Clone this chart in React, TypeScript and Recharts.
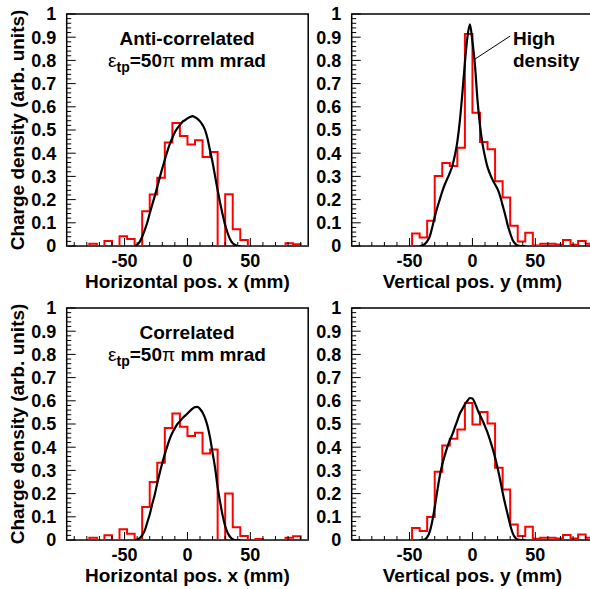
import { LineChart, Line, XAxis, YAxis, ReferenceArea, ReferenceLine } from "recharts";

// histogram bin edges (mm), 6 mm bins from -96 to 96
const binEdges = [
  -96, -90, -84, -78, -72, -66, -60, -54, -48, -42, -36, -30, -24, -18, -12, -6,
  0, 6, 12, 18, 24, 30, 36, 42, 48, 54, 60, 66, 72, 78, 84, 90, 96,
];

// red (measured) histograms, one value per bin
const antiHorizHist = [
  0, 0, 0, 0.01, 0, 0.022, 0, 0.042, 0.03, 0, 0.15, 0.222, 0.294, 0.446, 0.53, 0.474,
  0.437, 0.456, 0.384, 0.405, 0, 0.223, 0.072, 0.026, 0, 0, 0, 0, 0, 0.012, 0.008, 0,
];
const antiVertHist = [
  0, 0, 0, 0, 0, 0, 0, 0, 0.054, 0.037, 0.109, 0.302, 0.358, 0.345, 0.423, 0.914,
  0.574, 0.448, 0.417, 0.279, 0.209, 0.087, 0.019, 0.057, 0.002, 0.01, 0.01, 0.006, 0.026, 0.005, 0.022, 0.01,
];
const corrHorizHist = [
  0, 0, 0, 0.01, 0, 0.02, 0, 0.046, 0.027, 0, 0.142, 0.25, 0.333, 0.483, 0.545, 0.488,
  0.448, 0.462, 0.373, 0.39, 0, 0.2, 0.055, 0.017, 0, 0.004, 0, 0, 0, 0.01, 0.016, 0,
];
const corrVertHist = [
  0, 0, 0, 0, 0, 0, 0, 0, 0.052, 0.039, 0.099, 0.294, 0.407, 0.436, 0.476, 0.591,
  0.498, 0.552, 0.502, 0.311, 0.218, 0.067, 0.017, 0.057, 0.005, 0.01, 0.01, 0.006, 0.022, 0.006, 0.024, 0.01,
];

// black (simulated) curves, sampled every 2 mm
const fineX = [
  -42, -40, -38, -36, -34, -32, -30, -28, -26, -24, -22, -20, -18, -16, -14, -12, -10, -8, -6, -4, -2,
  0, 2, 4, 6, 8, 10, 12, 14, 16, 18, 20, 22, 24, 26, 28, 30, 32, 34, 36, 38, 40, 42,
];
const antiHorizFine = [
  0, 0.005, 0.018, 0.04, 0.068, 0.1, 0.14, 0.178, 0.215, 0.255, 0.295, 0.335, 0.372, 0.408, 0.44, 0.466,
  0.49, 0.508, 0.522, 0.535, 0.542, 0.55, 0.556, 0.56, 0.555, 0.548, 0.537, 0.522, 0.5, 0.462, 0.41,
  0.36, 0.3, 0.24, 0.185, 0.135, 0.09, 0.055, 0.028, 0.012, 0.004, 0, 0,
];
const antiVertFine = [
  0, 0.002, 0.008, 0.02, 0.04, 0.08, 0.125, 0.165, 0.2, 0.235, 0.265, 0.29, 0.315, 0.345, 0.39, 0.45,
  0.54, 0.66, 0.79, 0.9, 0.955, 0.88, 0.78, 0.63, 0.52, 0.44, 0.385, 0.34, 0.31, 0.285, 0.265,
  0.245, 0.215, 0.175, 0.135, 0.09, 0.055, 0.025, 0.01, 0.002, 0, 0, 0,
];
const corrHorizFine = [
  0, 0.002, 0.008, 0.02, 0.04, 0.075, 0.11, 0.155, 0.195, 0.245, 0.29, 0.332, 0.37, 0.405, 0.437, 0.462,
  0.482, 0.5, 0.512, 0.525, 0.535, 0.545, 0.556, 0.566, 0.573, 0.574, 0.565, 0.55, 0.525, 0.49, 0.44,
  0.375, 0.31, 0.228, 0.163, 0.105, 0.06, 0.03, 0.013, 0.003, 0, 0, 0,
];
const corrVertFine = [
  0, 0, 0.002, 0.012, 0.035, 0.08, 0.14, 0.21, 0.275, 0.325, 0.365, 0.4, 0.43, 0.455, 0.485, 0.515,
  0.545, 0.565, 0.585, 0.6, 0.612, 0.61, 0.59, 0.562, 0.538, 0.515, 0.49, 0.463, 0.43, 0.395, 0.355,
  0.31, 0.26, 0.205, 0.155, 0.11, 0.065, 0.03, 0.01, 0.002, 0, 0, 0,
];

const yMajor = [0, 0.1, 0.2, 0.3, 0.4, 0.5, 0.6, 0.7, 0.8, 0.9, 1];
const yLabels = ["0", "0.1", "0.2", "0.3", "0.4", "0.5", "0.6", "0.7", "0.8", "0.9", "1"];
const xTicks = [-90, -80, -70, -60, -50, -40, -30, -20, -10, 0, 10, 20, 30, 40, 50, 60, 70, 80, 90];
const xMajor = [-50, 0, 50];
const xLabels = ["-50", "0", "50"];

// minor y ticks every 0.02 between the majors
const yTicks: number[] = [];
yMajor.forEach((m, i) => {
  yTicks.push(m);
  if (i < yMajor.length - 1) {
    for (let k = 1; k < 5; k++) yTicks.push(Math.round((m + k * 0.02) * 100) / 100);
  }
});

const FONT = "'Liberation Sans', Arial, Helvetica, sans-serif";

function YTick(props: any) {
  const { x, y, payload } = props;
  const idx = yMajor.findIndex((m) => Math.abs(m - payload.value) < 1e-6);
  return (
    <g>
      <line x1={x} x2={x + (idx >= 0 ? 9 : 4.5)} y1={y} y2={y} stroke="#000" strokeWidth={1} />
      {idx >= 0 && (
        <text x={x - 10.5} y={y + 6.3} textAnchor="end" fontSize={18} fontWeight="bold" fontFamily={FONT} fill="#000">
          {yLabels[idx]}
        </text>
      )}
    </g>
  );
}

function XTick(props: any) {
  const { x, y, payload } = props;
  const idx = xMajor.indexOf(payload.value);
  return (
    <g>
      <line x1={x} x2={x} y1={y} y2={y - (idx >= 0 ? 8 : 4)} stroke="#000" strokeWidth={1} />
      {idx >= 0 && (
        <text x={x} y={y + 20.5} textAnchor="middle" fontSize={18} fontWeight="bold" fontFamily={FONT} fill="#000">
          {xLabels[idx]}
        </text>
      )}
    </g>
  );
}

interface PanelProps {
  left: number;
  top: number;
  hist: number[];
  fine: number[];
  xTitle: string;
  yTitle?: string;
  leader?: boolean;
}

function Panel({ left, top, hist, fine, xTitle, yTitle, leader }: PanelProps) {
  const histData = binEdges.map((x, i) => ({ x, v: hist[Math.min(i, hist.length - 1)] }));
  const fineData = fineX.map((x, i) => ({ x, v: fine[i] }));

  return (
    <div style={{ position: "absolute", left, top }}>
      <LineChart width={310} height={300} margin={{ top: 14, right: 1.8, bottom: 4, left: 6.7 }}>
        <XAxis
          type="number"
          dataKey="x"
          domain={[-96, 96]}
          allowDataOverflow
          ticks={xTicks}
          interval={0}
          tickSize={0}
          tickMargin={0}
          tickLine={false}
          axisLine={false}
          tick={(p: any) => <XTick {...p} />}
          height={50}
          label={{
            value: xTitle,
            content: (p: any) => (
              <text
                x={p.viewBox.x + p.viewBox.width / 2}
                y={p.viewBox.y + 41.5}
                textAnchor="middle"
                fontSize={19}
                fontWeight="bold"
                fontFamily={FONT}
                fill="#000"
              >
                {xTitle}
              </text>
            ),
          }}
        />
        <YAxis
          type="number"
          domain={[0, 1]}
          allowDataOverflow
          ticks={yTicks}
          interval={0}
          tickSize={0}
          tickMargin={0}
          tickLine={false}
          axisLine={false}
          tick={(p: any) => <YTick {...p} />}
          width={60}
          label={
            yTitle
              ? {
                  value: yTitle,
                  content: (p: any) => {
                    const cx = p.viewBox.x + 17.3;
                    const cy = p.viewBox.y + p.viewBox.height / 2;
                    return (
                      <text
                        x={cx}
                        y={cy}
                        transform={`rotate(-90 ${cx} ${cy})`}
                        textAnchor="middle"
                        fontSize={19}
                        fontWeight="bold"
                        fontFamily={FONT}
                        fill="#000"
                      >
                        {yTitle}
                      </text>
                    );
                  },
                }
              : undefined
          }
        />
        <Line
          data={histData}
          dataKey="v"
          type="stepAfter"
          stroke="#ff0000"
          strokeWidth={2}
          dot={false}
          isAnimationActive={false}
        />
        <Line
          data={fineData}
          dataKey="v"
          type="monotone"
          stroke="#000"
          strokeWidth={2.2}
          dot={false}
          isAnimationActive={false}
        />
        {leader && (
          <ReferenceLine
            segment={[
              { x: 1.8, y: 0.805 },
              { x: 30, y: 0.905 },
            ]}
            stroke="#000"
            strokeWidth={1}
            ifOverflow="visible"
          />
        )}
        <ReferenceArea
          x1={-96}
          x2={96}
          y1={0}
          y2={1}
          fill="none"
          fillOpacity={0}
          stroke="#000"
          strokeWidth={1.5}
          ifOverflow="visible"
        />
      </LineChart>
    </div>
  );
}

export default function App() {
  const text = { fontFamily: FONT, fontWeight: "bold" as const, fontSize: 19, fill: "#000" };
  return (
    <div
      style={{
        position: "absolute",
        left: 0,
        top: 0,
        width: 590,
        height: 589,
        overflow: "hidden",
        background: "#fff",
      }}
    >
      <Panel left={0} top={0} hist={antiHorizHist} fine={antiHorizFine} xTitle="Horizontal pos. x (mm)" yTitle="Charge density (arb. units)" />
      <Panel left={285} top={0} hist={antiVertHist} fine={antiVertFine} xTitle="Vertical pos. y (mm)" leader />
      <Panel left={0} top={294.3} hist={corrHorizHist} fine={corrHorizFine} xTitle="Horizontal pos. x (mm)" yTitle="Charge density (arb. units)" />
      <Panel left={285} top={294.3} hist={corrVertHist} fine={corrVertFine} xTitle="Vertical pos. y (mm)" />

      <svg width={590} height={589} style={{ position: "absolute", left: 0, top: 0, pointerEvents: "none" }}>
        <text x={187} y={44.5} textAnchor="middle" {...text}>Anti-correlated</text>
        <text x={187} y={66.7} textAnchor="middle" {...text}>
          <tspan fontWeight="normal">ε</tspan>
          <tspan fontSize={14} dy={5}>tp</tspan>
          <tspan dy={-5}>=50</tspan>
          <tspan fontWeight="normal">π</tspan>
          <tspan> mm mrad</tspan>
        </text>
        <text x={187} y={338.8} textAnchor="middle" {...text}>Correlated</text>
        <text x={187} y={361} textAnchor="middle" {...text}>
          <tspan fontWeight="normal">ε</tspan>
          <tspan fontSize={14} dy={5}>tp</tspan>
          <tspan dy={-5}>=50</tspan>
          <tspan fontWeight="normal">π</tspan>
          <tspan> mm mrad</tspan>
        </text>
        <text x={513} y={44.5} {...text}>High</text>
        <text x={513} y={67} {...text}>density</text>
      </svg>
    </div>
  );
}
